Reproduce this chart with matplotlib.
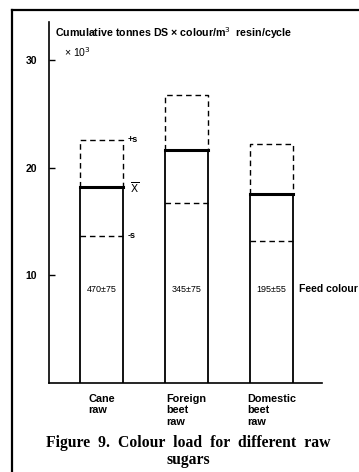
import matplotlib
matplotlib.use("Agg")
import matplotlib.pyplot as plt
from matplotlib.lines import Line2D

categories = ["Cane\nraw", "Foreign\nbeet\nraw", "Domestic\nbeet\nraw"]
means = [18.2, 21.7, 17.6]
plus_s = [22.6, 26.8, 22.2]
minus_s = [13.7, 16.7, 13.2]
feed_colour = ["470±75", "345±75", "195±55"]
yticks = [10, 20, 30]

W, H = 359, 472
fig = plt.figure(figsize=(W / 100, H / 100), dpi=100)
fig.patch.set_facecolor("white")

def fx(px):
    return px / W

def fy(py):
    return 1 - py / H

# outer frame
fig.add_artist(Line2D([fx(12), fx(12)], [fy(10), fy(472)], color="black", lw=1.6, transform=fig.transFigure))
fig.add_artist(Line2D([fx(12), fx(359)], [fy(10), fy(10)], color="black", lw=1.6, transform=fig.transFigure))

ax_l, ax_r, ax_b, ax_t = 49, 322, 383, 22
ax = fig.add_axes([fx(ax_l), fy(ax_b), (ax_r - ax_l) / W, (ax_b - ax_t) / H])
ax.set_facecolor("none")
ax.set_ylim(0, (ax_b - ax_t) / 10.76)
ax.set_xlim(-0.6176, 2.594)
for s in ["top", "right"]:
    ax.spines[s].set_visible(False)
for s in ["left", "bottom"]:
    ax.spines[s].set_linewidth(1.2)

sans = "Liberation Sans"
ax.set_yticks(yticks)
ax.set_yticklabels([str(v) for v in yticks], fontsize=7.5, fontweight="bold", family=sans)
ax.tick_params(axis="y", direction="in", length=4, width=1.0, pad=8.6)
ax.set_xticks(range(len(categories)))
ax.set_xticklabels(categories, fontsize=7.8, fontweight="bold", family=sans,
                   ha="center", multialignment="left", linespacing=1.15)
ax.tick_params(axis="x", length=0, pad=8)

bw = 0.506
dash = (0, (4, 2.8))
for i, (m, p, n, fc) in enumerate(zip(means, plus_s, minus_s, feed_colour)):
    x0, x1 = i - bw / 2, i + bw / 2
    ax.plot([x0, x0], [0, m], color="black", lw=1.3, solid_capstyle="butt")
    ax.plot([x1, x1], [0, m], color="black", lw=1.3, solid_capstyle="butt")
    ax.plot([x0, x1], [m, m], color="black", lw=2.2, solid_capstyle="projecting")
    ax.plot([x0, x0, x1, x1], [m, p, p, m], color="black", lw=1.0, linestyle=dash)
    ax.plot([x0, x1], [n, n], color="black", lw=1.0, linestyle=dash)
    ax.text(i, 8.7, fc, ha="center", va="center", fontsize=6.5, family=sans)

# side annotations for first bar
x1 = 0 + bw / 2
ax.text(x1 + 0.05, plus_s[0], "+s", ha="left", va="center", fontsize=6.5, fontweight="bold", family=sans)
ax.text(x1 + 0.08, means[0], r"$\overline{\mathrm{X}}$", ha="left", va="center", fontsize=7.5, family=sans)
ax.text(x1 + 0.06, minus_s[0], "-s", ha="left", va="center", fontsize=6.5, fontweight="bold", family=sans)
ax.text(2 + bw / 2 + 0.07, 8.7, "Feed colour", ha="left", va="center", fontsize=7.5,
        fontweight="bold", family=sans, clip_on=False)

fig.text(fx(55), fy(33), "Cumulative tonnes DS × colour/m$^3$  resin/cycle", ha="left", va="center",
         fontsize=7.7, fontweight="bold", family=sans)
fig.text(fx(64), fy(52), "× 10$^3$", ha="left", va="center", fontsize=7.6, family=sans)

fig.text(fx(188), fy(443), "Figure  9.  Colour  load  for  different  raw", ha="center", va="center",
         fontsize=11.3, fontweight="bold", family="Liberation Serif")
fig.text(fx(188), fy(460), "sugars", ha="center", va="center",
         fontsize=11.3, fontweight="bold", family="Liberation Serif")

fig.savefig("out.png", dpi=100, facecolor="white")
